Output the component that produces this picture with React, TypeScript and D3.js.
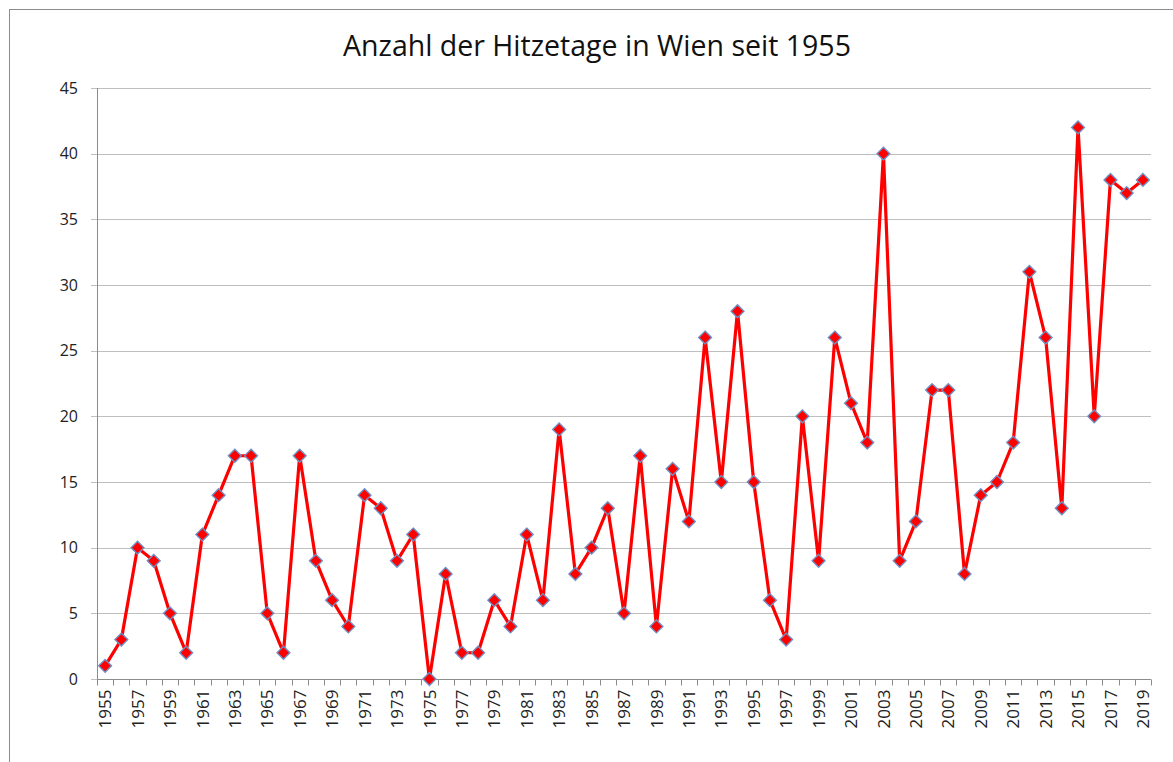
import { useEffect, useRef } from 'react';
import * as d3 from 'd3';

// Jahre und Anzahl der Hitzetage
const years: number[] = d3.range(1955, 2020);
const hitzetage: number[] = [
  1, 3, 10, 9, 5, 2, 11, 14, 17, 17,
  5, 2, 17, 9, 6, 4, 14, 13, 9, 11,
  0, 8, 2, 2, 6, 4, 11, 6, 19, 8,
  10, 13, 5, 17, 4, 16, 12, 26, 15, 28,
  15, 6, 3, 20, 9, 26, 21, 18, 40, 9,
  12, 22, 22, 8, 14, 15, 18, 31, 26, 13,
  42, 20, 38, 37, 38,
];
const yTicks: number[] = [0, 5, 10, 15, 20, 25, 30, 35, 40, 45];
const title = 'Anzahl der Hitzetage in Wien seit 1955';

export default function App() {
  const svgRef = useRef<SVGSVGElement>(null);

  useEffect(() => {
    const width = 1173;
    const height = 762;
    const margin = { top: 88, right: 22, bottom: 83, left: 97 };
    const innerWidth = width - margin.left - margin.right;
    const innerHeight = height - margin.top - margin.bottom;
    const font = "'Open Sans', 'DejaVu Sans', sans-serif";

    const svg = d3.select(svgRef.current);
    svg.selectAll('*').remove();

    // Rahmen
    svg.append('rect')
      .attr('x', 9.5)
      .attr('y', 9.5)
      .attr('width', width)
      .attr('height', height)
      .attr('fill', 'white')
      .attr('stroke', '#8c8c8c')
      .attr('stroke-width', 1);

    const g = svg.append('g')
      .attr('transform', `translate(${margin.left},${margin.top})`);

    const x = d3.scaleBand<number>()
      .domain(years)
      .range([0, innerWidth]);

    const y = d3.scaleLinear()
      .domain([0, 45])
      .range([innerHeight, 0]);

    // Gitterlinien
    g.append('g')
      .selectAll('line')
      .data(yTicks)
      .join('line')
        .attr('x1', -6)
        .attr('x2', innerWidth)
        .attr('y1', d => Math.round(y(d)) + 0.5)
        .attr('y2', d => Math.round(y(d)) + 0.5)
        .attr('stroke', '#bfbfbf')
        .attr('stroke-width', 1);

    // Y-Achse
    g.append('line')
      .attr('x1', 0.5).attr('x2', 0.5)
      .attr('y1', 0).attr('y2', innerHeight)
      .attr('stroke', '#8c8c8c');

    g.append('g')
      .selectAll('text')
      .data(yTicks)
      .join('text')
        .attr('x', -19)
        .attr('y', d => y(d))
        .attr('dy', '0.35em')
        .attr('text-anchor', 'end')
        .style('font-family', font)
        .style('font-size', '16px')
        .attr('fill', '#222')
        .text(d => d);

    // X-Achse
    const xAxis = g.append('g')
      .attr('transform', `translate(0,${Math.round(innerHeight) + 0.5})`);

    xAxis.append('line')
      .attr('x1', 0).attr('x2', innerWidth)
      .attr('stroke', '#8c8c8c');

    xAxis.selectAll('line.tick')
      .data([...years, 2020])
      .join('line')
        .attr('class', 'tick')
        .attr('x1', (d, i) => Math.round(i * x.step()) + 0.5)
        .attr('x2', (d, i) => Math.round(i * x.step()) + 0.5)
        .attr('y1', 0)
        .attr('y2', 6)
        .attr('stroke', '#8c8c8c');

    xAxis.selectAll('text')
      .data(years.filter((d, i) => i % 2 === 0))
      .join('text')
        .attr('transform', d => `translate(${x(d)! + x.bandwidth() / 2},10) rotate(-90)`)
        .attr('dy', '0.36em')
        .attr('text-anchor', 'end')
        .style('font-family', font)
        .style('font-size', '17px')
        .attr('fill', '#222')
        .text(d => d);

    // Linie
    const line = d3.line<number>()
      .x((d, i) => x(years[i])! + x.bandwidth() / 2)
      .y(d => y(d));

    g.append('path')
      .datum(hitzetage)
      .attr('d', line)
      .attr('fill', 'none')
      .attr('stroke', '#ff0000')
      .attr('stroke-width', 3.2)
      .attr('stroke-linejoin', 'round');

    // Rauten-Marker
    const diamond = d3.symbol().type(d3.symbolDiamond2).size(105);
    g.append('g')
      .selectAll('path')
      .data(hitzetage)
      .join('path')
        .attr('transform', (d, i) => `translate(${x(years[i])! + x.bandwidth() / 2},${y(d)})`)
        .attr('d', diamond)
        .attr('fill', '#ff0000')
        .attr('stroke', '#6f8fc4')
        .attr('stroke-width', 1.4);

    // Titel
    svg.append('text')
      .attr('x', 597)
      .attr('y', 56)
      .attr('text-anchor', 'middle')
      .style('font-family', font)
      .style('font-size', '28.5px')
      .attr('fill', '#111')
      .text(title);
  }, []);

  return (
    <svg
      ref={svgRef}
      width={1173}
      height={762}
      style={{ position: 'absolute', left: 0, top: 0, display: 'block' }}
    />
  );
}
